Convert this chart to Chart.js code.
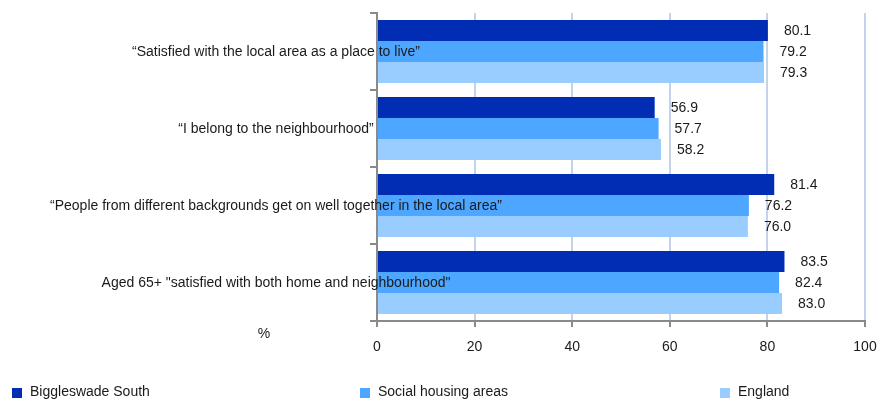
<!DOCTYPE html>
<html>
<head>
<meta charset="utf-8">
<script src="https://cdn.jsdelivr.net/npm/chart.js@4.4.1/dist/chart.umd.min.js"></script>
<style>
  html, body { margin: 0; padding: 0; background: #fff; }
  #wrap { width: 881px; height: 400px; position: relative; }
</style>
</head>
<body>
<div id="wrap"><canvas id="chart" width="881" height="400"></canvas></div>
<script>
// data
const categories = [
    '\u201cSatisfied with the local area as a place to live\u201d',
    '\u201cI belong to the neighbourhood\u201d',
    '\u201cPeople from different backgrounds get on well together in the local area\u201d',
    'Aged 65+ "satisfied with both home and neighbourhood"'
];
const seriesNames = ['Biggleswade South', 'Social housing areas', 'England'];
const biggleswade = [80.1, 56.9, 81.4, 83.5];
const socialHousing = [79.2, 57.7, 76.2, 82.4];
const england = [79.3, 58.2, 76.0, 83.0];
const xTicks = [0, 20, 40, 60, 80, 100];

const colors = ['#002db3', '#4da6ff', '#99ccff'];
const FAMILY = '"Liberation Sans", Arial, sans-serif';
const FONT = '14px ' + FAMILY;
const axisGrey = '#8a8a8a';

// category labels, value labels, % and the legend
const extras = {
    id: 'extras',
    afterDatasetsDraw(chart) {
        const ctx = chart.ctx;
        const yScale = chart.scales.y;
        ctx.save();
        ctx.font = FONT;
        ctx.fillStyle = '#1a1a1a';

        // value labels
        ctx.textAlign = 'left';
        ctx.textBaseline = 'middle';
        chart.data.datasets.forEach((ds, i) => {
            chart.getDatasetMeta(i).data.forEach((bar, j) => {
                ctx.fillText(ds.data[j].toFixed(1), bar.x + 16, bar.y + 1);
            });
        });

        // category labels, drawn over the bars like the original
        ctx.textAlign = 'center';
        categories.forEach((c, i) => {
            ctx.fillText(c, 276, yScale.getPixelForValue(i) + 1);
        });

        // % label
        ctx.fillText('%', 264, 334);

        // legend
        const legendX = [12, 360, 720];
        ctx.textAlign = 'left';
        seriesNames.forEach((name, i) => {
            ctx.fillStyle = colors[i];
            ctx.fillRect(legendX[i], 388, 10, 10);
            ctx.fillStyle = '#1a1a1a';
            ctx.fillText(name, legendX[i] + 18, 392);
        });
        ctx.restore();
    }
};

new Chart(document.getElementById('chart'), {
    type: 'bar',
    data: {
        labels: categories,
        datasets: [
            { label: seriesNames[0], data: biggleswade, backgroundColor: colors[0] },
            { label: seriesNames[1], data: socialHousing, backgroundColor: colors[1] },
            { label: seriesNames[2], data: england, backgroundColor: colors[2] }
        ]
    },
    options: {
        indexAxis: 'y',
        responsive: false,
        animation: false,
        layout: { padding: { top: 13, right: 16, bottom: 39, left: 0 } },
        datasets: {
            bar: { categoryPercentage: 0.82, barPercentage: 1.0, borderWidth: 0 }
        },
        plugins: {
            legend: { display: false },
            tooltip: { enabled: false }
        },
        scales: {
            x: {
                min: 0,
                max: 100,
                afterBuildTicks(scale) {
                    scale.ticks = xTicks.map(v => ({ value: v }));
                },
                afterFit(scale) {
                    scale.height = 40;
                    scale.paddingLeft = 0;
                    scale.paddingRight = 0;
                },
                grid: {
                    color: '#c3d4ea',
                    lineWidth: 2,
                    tickColor: axisGrey,
                    tickLength: 6,
                    drawTicks: true
                },
                border: { color: axisGrey, width: 2 },
                ticks: {
                    font: { family: FAMILY, size: 14 },
                    color: '#1a1a1a',
                    padding: 12,
                    maxRotation: 0
                }
            },
            y: {
                afterFit(scale) { scale.width = 377; },
                grid: {
                    drawOnChartArea: false,
                    offset: true,
                    tickColor: axisGrey,
                    tickLength: 7,
                    lineWidth: 2
                },
                border: { color: axisGrey, width: 2 },
                ticks: { display: false }
            }
        }
    },
    plugins: [extras]
});
</script>
</body>
</html>
